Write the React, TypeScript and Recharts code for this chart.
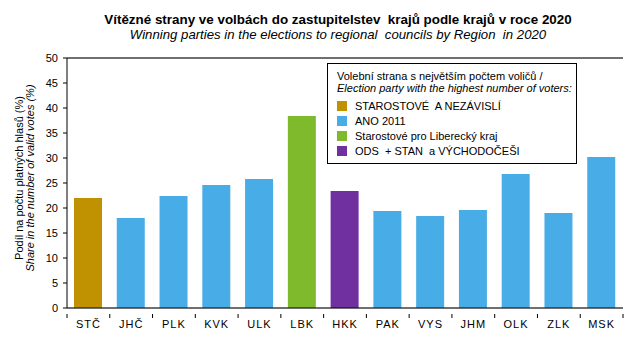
import { BarChart, Bar, Cell, XAxis, YAxis, CartesianGrid, ReferenceLine, Legend } from 'recharts';

const regions = ['STČ', 'JHČ', 'PLK', 'KVK', 'ULK', 'LBK', 'HKK', 'PAK', 'VYS', 'JHM', 'OLK', 'ZLK', 'MSK'];
const shares = [22.0, 18.0, 22.4, 24.6, 25.8, 38.4, 23.4, 19.4, 18.4, 19.6, 26.8, 19.0, 30.2];
const winners = [0, 1, 1, 1, 1, 2, 3, 1, 1, 1, 1, 1, 1];

const parties = ['STAROSTOVÉ  A NEZÁVISLÍ', 'ANO 2011', 'Starostové pro Liberecký kraj', 'ODS  + STAN  a VÝCHODOČEŠI'];
const partyColors = ['#C09100', '#48ADE6', '#7FBA2D', '#7030A0'];

const yTicks = [0, 5, 10, 15, 20, 25, 30, 35, 40, 45, 50];

const data = regions.map((r, i) => ({ region: r, share: shares[i], party: winners[i] }));

const FONT = '"Liberation Sans", Arial, sans-serif';
const W = 643;
const H = 340;
const M = { top: 58, right: 20, bottom: 12, left: 0 };
const Y_W = 67;
const BAND = (W - M.left - M.right - Y_W) / regions.length;

function RegionTick(props: any) {
  const { x, y, payload, index } = props;
  const last = index === regions.length - 1;
  return (
    <g>
      <line x1={x - BAND / 2} x2={x - BAND / 2} y1={y} y2={y + 4} stroke="#000" />
      {last && <line x1={x + BAND / 2} x2={x + BAND / 2} y1={y} y2={y + 4} stroke="#000" />}
      <text x={x} y={y + 14} textAnchor="middle" fontSize={11} fontFamily={FONT} fill="#000" letterSpacing={1}>
        {payload.value}
      </text>
    </g>
  );
}

function LegendBox() {
  return (
    <div
      style={{
        width: 250,
        height: 101,
        border: '1px solid #000',
        background: '#fff',
        fontFamily: FONT,
        fontSize: 11,
        color: '#000',
        boxSizing: 'border-box',
        padding: '6px 0 0 9px',
        lineHeight: '12px',
      }}
    >
      <div>Volební strana s největším počtem voličů /</div>
      <div style={{ fontStyle: 'italic', marginBottom: 4 }}>Election party with the highest number of voters:</div>
      {parties.map((p, i) => (
        <div key={p} style={{ display: 'flex', alignItems: 'center', height: 15, whiteSpace: 'pre' }}>
          <span style={{ width: 10, height: 10, background: partyColors[i], display: 'inline-block', marginRight: 8 }} />
          {p}
        </div>
      ))}
    </div>
  );
}

export default function App() {
  return (
    <div style={{ position: 'absolute', left: 0, top: 0, width: W, height: H, background: '#fff', fontFamily: FONT }}>
      <div style={{ position: 'absolute', left: 0, width: 676, top: 12, textAlign: 'center', fontWeight: 'bold', fontSize: 13.4, lineHeight: '16px', whiteSpace: 'pre' }}>
        {'Vítězné strany ve volbách do zastupitelstev  krajů podle krajů v roce 2020'}
      </div>
      <div style={{ position: 'absolute', left: 0, width: 676, top: 27, textAlign: 'center', fontStyle: 'italic', fontSize: 13.2, lineHeight: '16px', whiteSpace: 'pre' }}>
        {'Winning parties in the elections to regional  councils by Region  in 2020'}
      </div>
      <div style={{ position: 'absolute', left: 0, top: 0 }}>
        <BarChart width={W} height={H} data={data} margin={M}>
          <CartesianGrid vertical={false} stroke="#BFBFBF" />
          <XAxis
            dataKey="region"
            axisLine={{ stroke: '#000' }}
            tickLine={false}
            height={20}
            tick={<RegionTick />}
            tickMargin={0}
            interval={0}
          />
          <YAxis
            yAxisId="left"
            domain={[0, 50]}
            ticks={yTicks}
            width={Y_W}
            tickSize={4}
            tickLine={{ stroke: '#000' }}
            axisLine={{ stroke: '#000' }}
            tick={{ fill: '#000', fontSize: 11, fontFamily: FONT }}
            tickMargin={5}
            interval={0}
            label={({ viewBox }: any) => {
              const cy = viewBox.y + viewBox.height / 2 - 5;
              return (
                <g>
                  <text x={19} y={cy} transform={`rotate(-90 19 ${cy})`} textAnchor="middle" dominantBaseline="central" fontSize={11} fontFamily={FONT} fill="#000">
                    Podíl  na počtu platných hlasů (%)
                  </text>
                  <text x={30} y={cy} transform={`rotate(-90 30 ${cy})`} textAnchor="middle" dominantBaseline="central" fontSize={11} fontStyle="italic" fontFamily={FONT} fill="#000">
                    Share in the number of valid votes (%)
                  </text>
                </g>
              );
            }}
          />
          <YAxis yAxisId="right" orientation="right" width={0} tick={false} tickLine={false} axisLine={{ stroke: '#000' }} domain={[0, 50]} />
          <ReferenceLine yAxisId="left" y={50} stroke="#000" />
          <Bar dataKey="share" yAxisId="left" barSize={28} isAnimationActive={false}>
            {data.map((d) => (
              <Cell key={d.region} fill={partyColors[d.party]} />
            ))}
          </Bar>
          <Legend
            layout="vertical"
            align="center"
            verticalAlign="middle"
            wrapperStyle={{ position: 'absolute', left: 327, top: 63, width: 250, height: 101 }}
            content={() => <LegendBox />}
          />
        </BarChart>
      </div>
    </div>
  );
}
